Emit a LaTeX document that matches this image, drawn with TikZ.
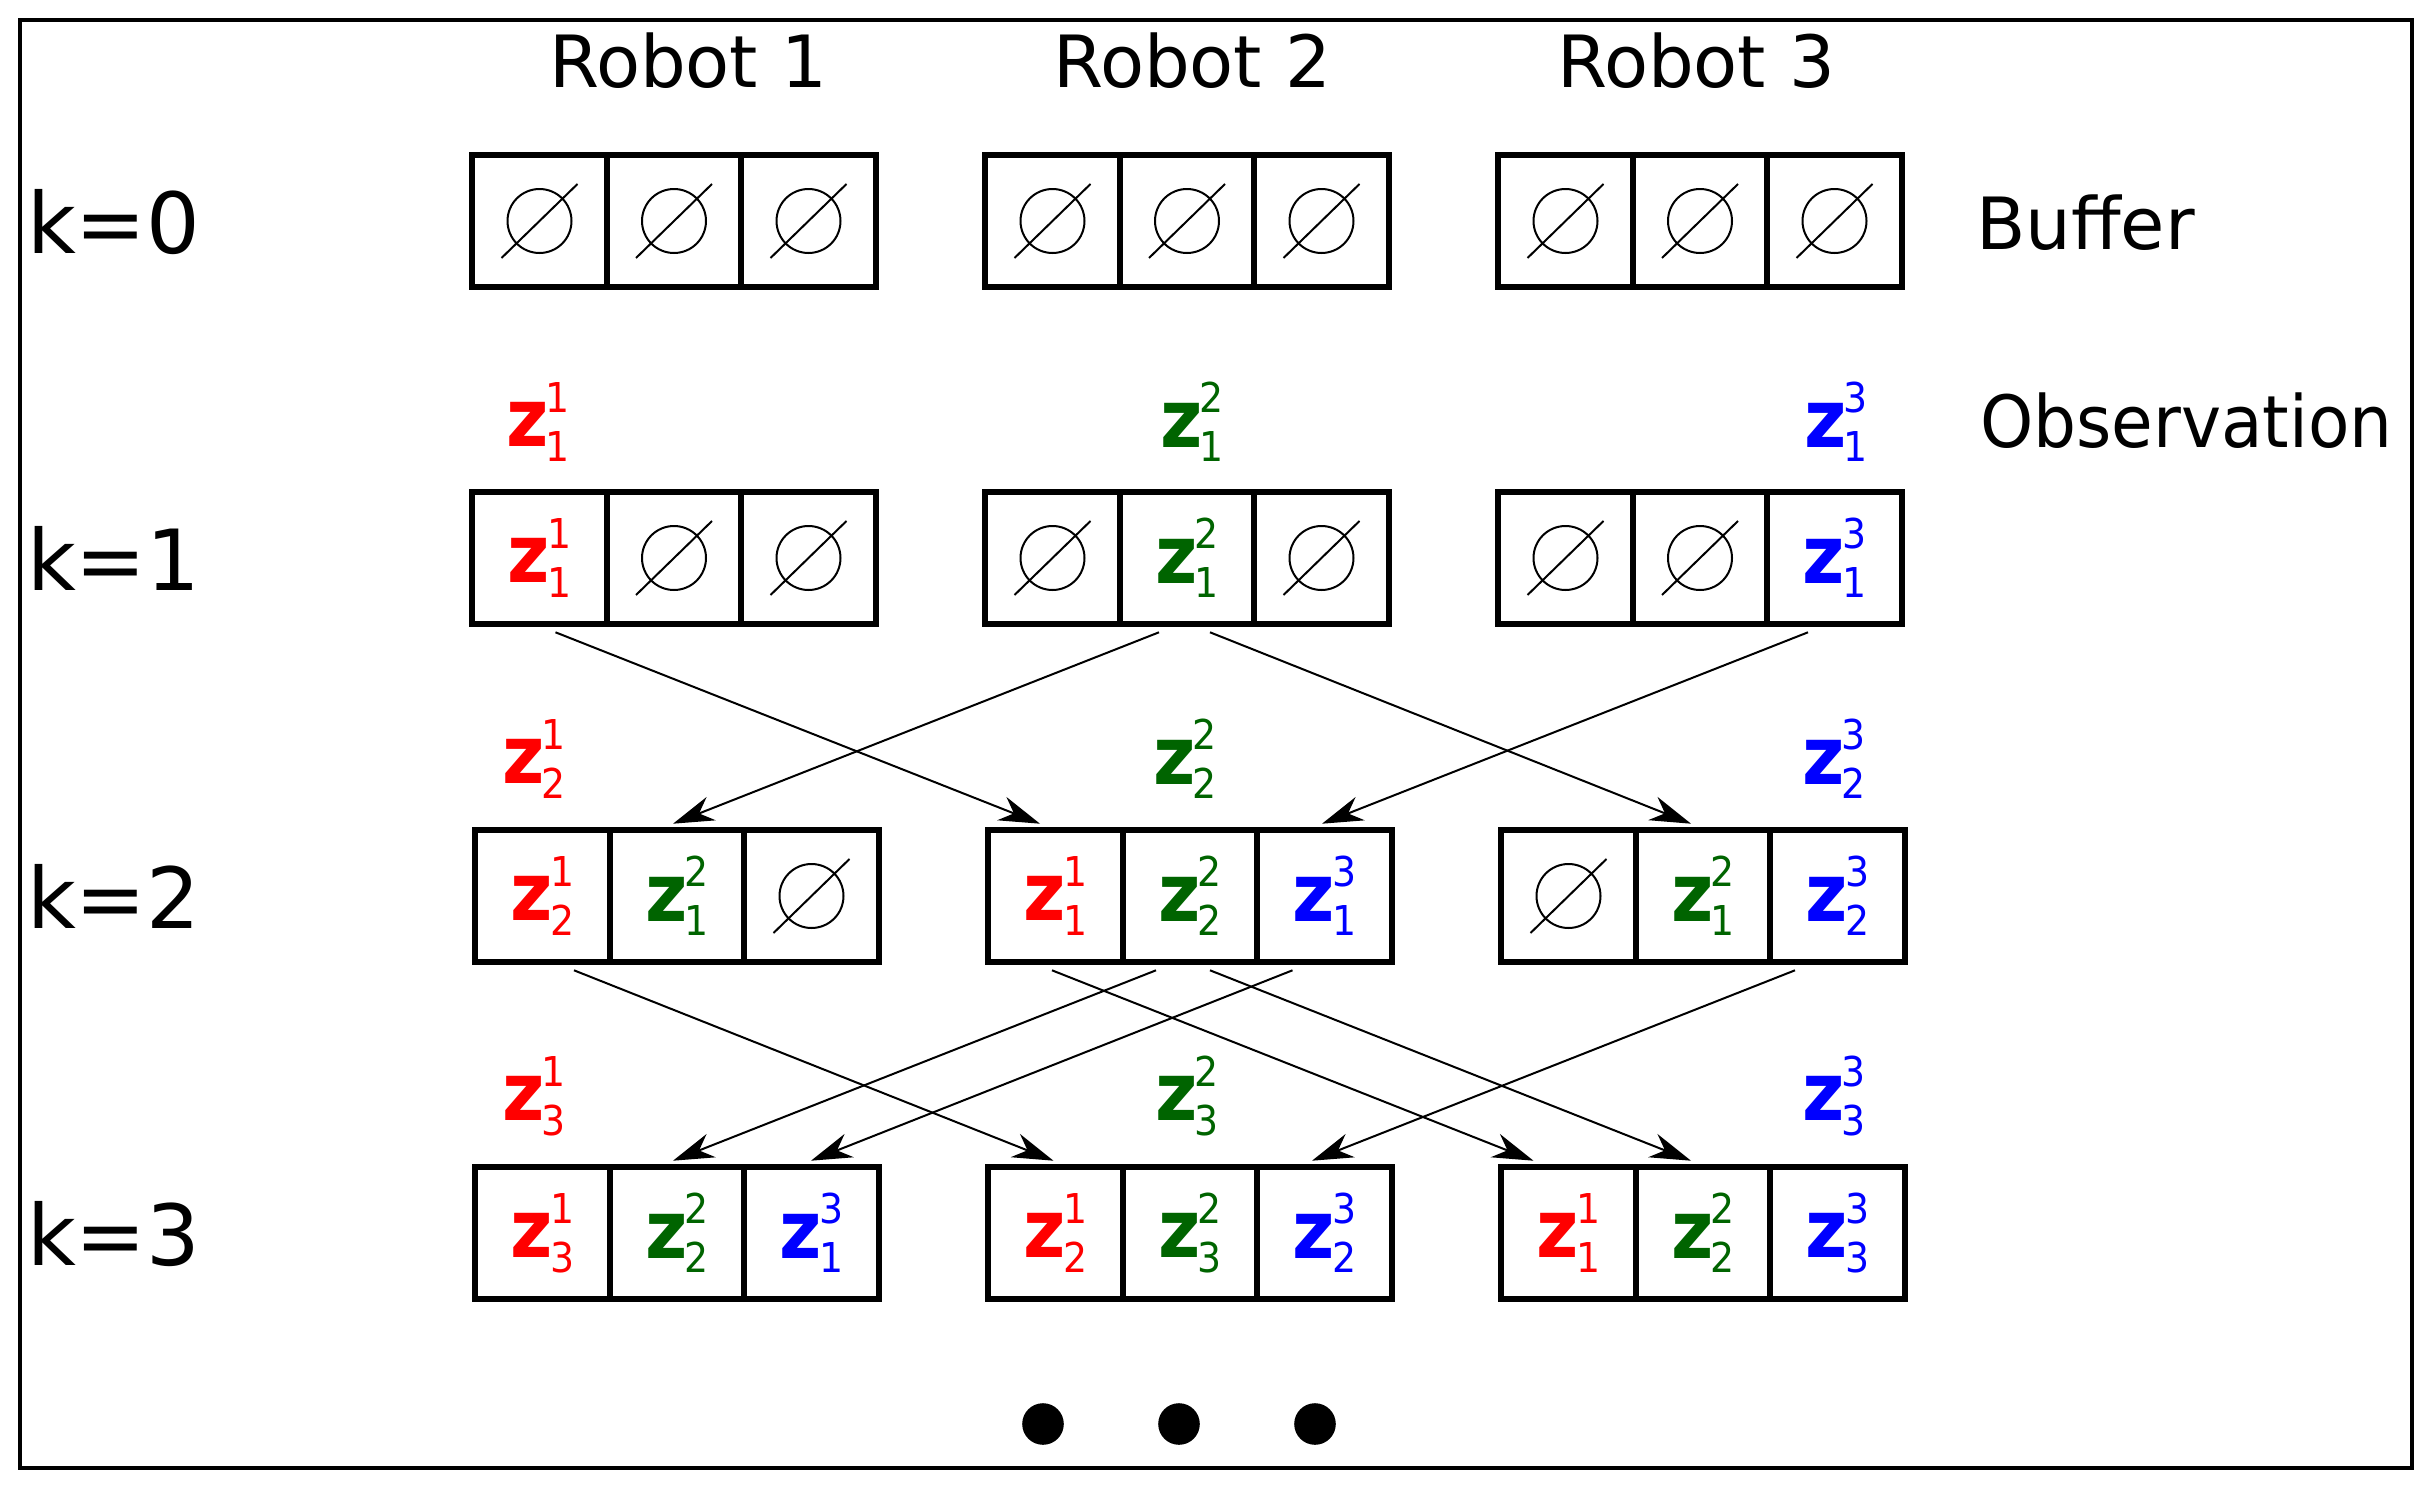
\documentclass[tikz,border=0pt]{standalone}
\usepackage{fontspec}
\setmainfont{DejaVu Sans}
\usetikzlibrary{arrows.meta,calc}
\definecolor{zred}{RGB}{255,0,0}
\definecolor{zgreen}{RGB}{0,100,0}
\definecolor{zblue}{RGB}{0,0,255}
\newcommand{\zbig}{\fontsize{23}{23}\selectfont\bfseries}
\newcommand{\zsmall}{\fontsize{11.7}{12}\selectfont\mdseries}
\newcommand{\zlab}[3]{\textcolor{#1}{\scalebox{0.9}[1]{\zbig z}\kern-0.3mm\rlap{\raisebox{3.46mm}{\scalebox{0.92}[1]{\zsmall #3}}}\raisebox{-1.47mm}{\scalebox{0.92}[1]{\zsmall #2}}}}
\newcommand{\zR}[2]{\zlab{zred}{#1}{#2}}
\newcommand{\zG}[2]{\zlab{zgreen}{#1}{#2}}
\newcommand{\zB}[2]{\zlab{zblue}{#1}{#2}}
\tikzset{
  cell/.style={draw, line width=0.6mm, minimum width=13.45mm, minimum height=13.26mm, inner sep=0, outer sep=0},
  lab/.style={inner sep=0, outer sep=0},
  hdr/.style={inner sep=0, outer sep=0, font=\fontsize{20.5}{24}\selectfont},
  klab/.style={inner sep=0, outer sep=0, font=\fontsize{24}{28}\selectfont},
  flow/.style={line width=0.2mm, -{Stealth[length=4.1mm,width=2.5mm,inset=1.3mm]}},
  emptyset/.pic={
    \draw[line width=0.2mm] (0,0) circle[radius=3.2mm];
    \draw[line width=0.2mm] (-38,37) -- (38,-37);
  }
}
\begin{document}
\begin{tikzpicture}[x=0.1mm,y=-0.1mm]
\useasboundingbox (0,0) rectangle (2433,1488);
\draw[line width=0.4mm] (20,20) rectangle (2412,1468);

% headers
\node[hdr, anchor=base] (rob1) at (688,87) {Robot 1};
\node[hdr, anchor=base] (rob2) at (1192,87) {Robot 2};
\node[hdr, anchor=base] (rob3) at (1696,87) {Robot 3};

% step labels
\node[klab, anchor=base west] (k0) at (27,253) {k=0};
\node[klab, anchor=base west] (k1) at (27,590) {k=1};
\node[klab, anchor=base west] (k2) at (27,928) {k=2};
\node[klab, anchor=base west] (k3) at (27,1265) {k=3};

% right labels
\node[hdr, anchor=base west] (buf) at (1976,249) {Buffer};
\node[hdr, anchor=base west] (obs) at (1980,447) {\scalebox{0.94}[1]{Observation}};

% row k=0
\node[cell] (c011) at (539.5,221) {};
\node[cell] (c012) at (674,221) {};
\node[cell] (c013) at (808.5,221) {};
\node[cell] (c021) at (1052.5,221) {};
\node[cell] (c022) at (1187,221) {};
\node[cell] (c023) at (1321.5,221) {};
\node[cell] (c031) at (1565.5,221) {};
\node[cell] (c032) at (1700,221) {};
\node[cell] (c033) at (1834.5,221) {};

% observations k=1
\node[lab] (o11) at (538,422) {\zR{1}{1}};
\node[lab] (o12) at (1192,422) {\zG{1}{2}};
\node[lab] (o13) at (1836,422) {\zB{1}{3}};

% row k=1
\node[cell] (c111) at (539.5,558) {\zR{1}{1}};
\node[cell] (c112) at (674,558) {};
\node[cell] (c113) at (808.5,558) {};
\node[cell] (c121) at (1052.5,558) {};
\node[cell] (c122) at (1187,558) {\zG{1}{2}};
\node[cell] (c123) at (1321.5,558) {};
\node[cell] (c131) at (1565.5,558) {};
\node[cell] (c132) at (1700,558) {};
\node[cell] (c133) at (1834.5,558) {\zB{1}{3}};

% observations k=2
\node[lab] (o21) at (534,759) {\zR{2}{1}};
\node[lab] (o22) at (1185,759) {\zG{2}{2}};
\node[lab] (o23) at (1834,759) {\zB{2}{3}};

% row k=2
\node[cell] (c211) at (542.5,896) {\zR{2}{1}};
\node[cell] (c212) at (677,896) {\zG{1}{2}};
\node[cell] (c213) at (811.5,896) {};
\node[cell] (c221) at (1055.5,896) {\zR{1}{1}};
\node[cell] (c222) at (1190,896) {\zG{2}{2}};
\node[cell] (c223) at (1324.5,896) {\zB{1}{3}};
\node[cell] (c231) at (1568.5,896) {};
\node[cell] (c232) at (1703,896) {\zG{1}{2}};
\node[cell] (c233) at (1837.5,896) {\zB{2}{3}};

% observations k=3
\node[lab] (o31) at (534,1096) {\zR{3}{1}};
\node[lab] (o32) at (1187,1096) {\zG{3}{2}};
\node[lab] (o33) at (1834,1096) {\zB{3}{3}};

% row k=3
\node[cell] (c311) at (542.5,1233) {\zR{3}{1}};
\node[cell] (c312) at (677,1233) {\zG{2}{2}};
\node[cell] (c313) at (811.5,1233) {\zB{1}{3}};
\node[cell] (c321) at (1055.5,1233) {\zR{2}{1}};
\node[cell] (c322) at (1190,1233) {\zG{3}{2}};
\node[cell] (c323) at (1324.5,1233) {\zB{2}{3}};
\node[cell] (c331) at (1568.5,1233) {\zR{1}{1}};
\node[cell] (c332) at (1703,1233) {\zG{2}{2}};
\node[cell] (c333) at (1837.5,1233) {\zB{3}{3}};

% empty-set marks
\foreach \c in {c011,c012,c013,c021,c022,c023,c031,c032,c033,
                c112,c113,c121,c123,c131,c132,c213,c231}
  \pic at (\c) {emptyset};

% exchanges k=1 -> k=2
\draw[flow] ($(c111.south)+(16,8)$)   -- ($(c221.north)+(-15.5,-6)$);
\draw[flow] ($(c122.south)+(-28,8)$)  -- ($(c212.north)+(-4,-6)$);
\draw[flow] ($(c122.south)+(23,8)$)   -- ($(c232.north)+(-12,-6)$);
\draw[flow] ($(c133.south)+(-26.5,8)$) -- ($(c223.north)+(-2.5,-6)$);

% exchanges k=2 -> k=3
\draw[flow] ($(c211.south)+(31.5,8)$) -- ($(c321.north)+(-2,-6)$);
\draw[flow] ($(c222.south)+(-34,8)$)  -- ($(c312.north)+(-4,-6)$);
\draw[flow] ($(c223.south)+(-32,8)$)  -- ($(c313.north)+(-0.5,-6)$);
\draw[flow] ($(c221.south)+(-3.5,8)$) -- ($(c331.north)+(-35,-6)$);
\draw[flow] ($(c222.south)+(20,8)$)   -- ($(c332.north)+(-12,-6)$);
\draw[flow] ($(c233.south)+(-42.5,8)$) -- ($(c323.north)+(-12.5,-6)$);

% continuation dots
\fill (1043,1424) circle[radius=2.08mm];
\fill (1179,1424) circle[radius=2.08mm];
\fill (1315,1424) circle[radius=2.08mm];
\end{tikzpicture}
\end{document}
